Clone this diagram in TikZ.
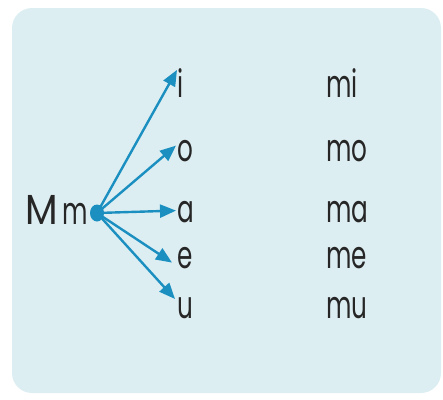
\documentclass[tikz,border=0pt]{standalone}
\usepackage{fontspec}
\setmainfont{Poppins}[FakeStretch = 0.65]
\newfontfamily\widefont{Poppins}[FakeStretch = 0.9]
\usetikzlibrary{arrows.meta, shapes.geometric}

\definecolor{panelblue}{RGB}{221,238,243}
\definecolor{arrowblue}{RGB}{26,143,192}

\tikzstyle{letter} = [inner sep = 0pt, anchor = base west, font = \fontsize{38}{38}\selectfont, text = black!85]
\tikzstyle{link} = [draw = arrowblue, line width = 2.4pt, -{Triangle[length = 16pt, width = 13pt]}]

\begin{document}
\begin{tikzpicture}[x = 1pt, y = -1pt]
			\useasboundingbox (0,0) rectangle (443,399);
			\fill[panelblue, rounded corners = 20pt] (12,8) rectangle (441,393);
			% consonant and the dot the arrows leave from
			\node[letter] (M) at (25,224) {{\widefont\fontsize{42}{42}\selectfont M}\hspace{5pt}m};
			\node[ellipse, fill = arrowblue, minimum width = 14pt, minimum height = 17pt, inner sep = 0pt] (dot) at (97,213) {};
			% vowels
			\node[letter] (i) at (177,97) {i};
			\node[letter] (o) at (177,161) {o};
			\node[letter] (a) at (177,222) {a};
			\node[letter] (e) at (177,268) {e};
			\node[letter] (u) at (177,318) {u};
			% syllables
			\node[letter] (mi) at (326,97) {mi};
			\node[letter] (mo) at (326,161) {mo};
			\node[letter] (ma) at (326,222) {ma};
			\node[letter] (me) at (326,268) {me};
			\node[letter] (mu) at (326,318) {mu};
			\path
			(dot.center) edge[link] ([yshift = -2pt]i.north west)
			(dot.center) edge[link] ([xshift = -1pt, yshift = 5pt]o.west)
			(dot.center) edge[link] ([xshift = -1pt, yshift = 1pt]a.west)
			(dot.center) edge[link] ([xshift = -5pt, yshift = -5pt]e.west)
			(dot.center) edge[link] ([xshift = -2pt, yshift = -2pt]u.north west);
		\end{tikzpicture}
\end{document}
